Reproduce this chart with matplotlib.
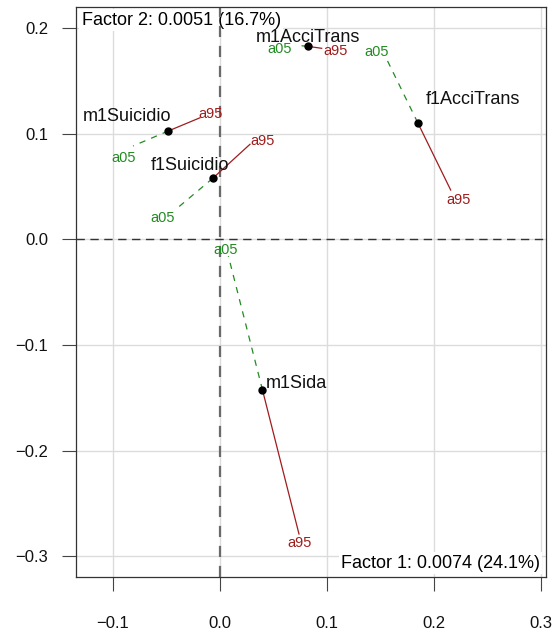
import matplotlib
matplotlib.use("Agg")
import matplotlib.pyplot as plt

plt.rcParams["font.family"] = ["Liberation Sans", "DejaVu Sans"]

# Category coordinates on the first two factors
names = ["m1AcciTrans", "f1AcciTrans", "m1Suicidio", "f1Suicidio", "m1Sida"]
fx = [0.0820, 0.1848, -0.0483, -0.0068, 0.0397]
fy = [0.1826, 0.1103, 0.1025, 0.0577, -0.1426]

# Ends of the 5% and 95% trajectories
a05_x = [0.0751, 0.1561, -0.0813, -0.0421, 0.0078]
a05_y = [0.1832, 0.1697, 0.0883, 0.0277, -0.0158]
a95_x = [0.0950, 0.2156, -0.0187, 0.0280, 0.0738]
a95_y = [0.1807, 0.0466, 0.1150, 0.0899, -0.2788]

factor1 = "Factor 1: 0.0074 (24.1%)"
factor2 = "Factor 2: 0.0051 (16.7%)"
xticks = [-0.1, 0.0, 0.1, 0.2, 0.3]
yticks = [-0.3, -0.2, -0.1, 0.0, 0.1, 0.2]

# label offsets in pixels
name_off = [(0, 9), (55, 23), (-41, 14), (-23, 13), (34, 7)]
a05_off = [(-21, -3), (-10, 8), (-9, -12), (-12, -8), (-3, 6)]
a95_off = [(14, -3), (8, -10), (11, 4), (13, 3), (1, -9)]

green = "#228B22"
red = "#A01C1C"

fig = plt.figure(figsize=(5.56, 6.35), dpi=100)
ax = fig.add_axes([0.1367, 0.0913, 0.8448, 0.8977])
ax.set_xlim(-0.1346, 0.3044)
ax.set_ylim(-0.3195, 0.2198)

ax.set_xticks(xticks)
ax.set_xticklabels(["%.1f" % v if v != 0 else "0.0" for v in xticks])
ax.set_yticks(yticks)
ax.set_yticklabels(["%.1f" % v if v != 0 else "0.0" for v in yticks])
ax.xaxis.set_major_formatter(plt.FuncFormatter(lambda v, p: ("%.1f" % v).replace("-", "\u2212") if abs(v) > 1e-9 else "0.0"))
ax.yaxis.set_major_formatter(plt.FuncFormatter(lambda v, p: ("%.1f" % v).replace("-", "\u2212") if abs(v) > 1e-9 else "0.0"))

ax.grid(True, color="#dcdcdc", lw=1.0, zorder=0)
ax.set_axisbelow(True)
for spine in ax.spines.values():
    spine.set_color("#333333")
    spine.set_linewidth(0.9)
ax.tick_params(axis="both", length=10, width=0.8, color="#444444", labelsize=12, labelcolor="#111111")
ax.tick_params(axis="x", pad=18)
ax.tick_params(axis="y", pad=10)

# factor captions with white background over the grid
bb = dict(facecolor="white", edgecolor="none", pad=1.5)
ax.text(0.012, 0.977, factor2, transform=ax.transAxes, ha="left", va="center", fontsize=13, bbox=bb, zorder=1)
ax.text(0.988, 0.0246, factor1, transform=ax.transAxes, ha="right", va="center", fontsize=13, bbox=bb, zorder=1)

# zero lines
ax.axvline(0, color="#6a6a6a", lw=1.6, dashes=(5, 4), zorder=2)
ax.axhline(0, color="#333333", lw=1.0, dashes=(6, 4), zorder=2)

for i, name in enumerate(names):
    ax.plot([fx[i], a05_x[i]], [fy[i], a05_y[i]], color=green, lw=0.9, dashes=(5, 5), zorder=3)
    ax.plot([fx[i], a95_x[i]], [fy[i], a95_y[i]], color=red, lw=0.9, zorder=3)
    ax.plot(fx[i], fy[i], "o", color="black", ms=5, zorder=4)
    ax.annotate(name, (fx[i], fy[i]), xytext=name_off[i], textcoords="offset pixels",
                ha="center", va="center", fontsize=13, color="#111111", zorder=5)
    ax.annotate("a05", (a05_x[i], a05_y[i]), xytext=a05_off[i], textcoords="offset pixels",
                ha="center", va="center", fontsize=10.5, color=green, zorder=5)
    ax.annotate("a95", (a95_x[i], a95_y[i]), xytext=a95_off[i], textcoords="offset pixels",
                ha="center", va="center", fontsize=10.5, color=red, zorder=5)

fig.savefig("out.png", dpi=100)
